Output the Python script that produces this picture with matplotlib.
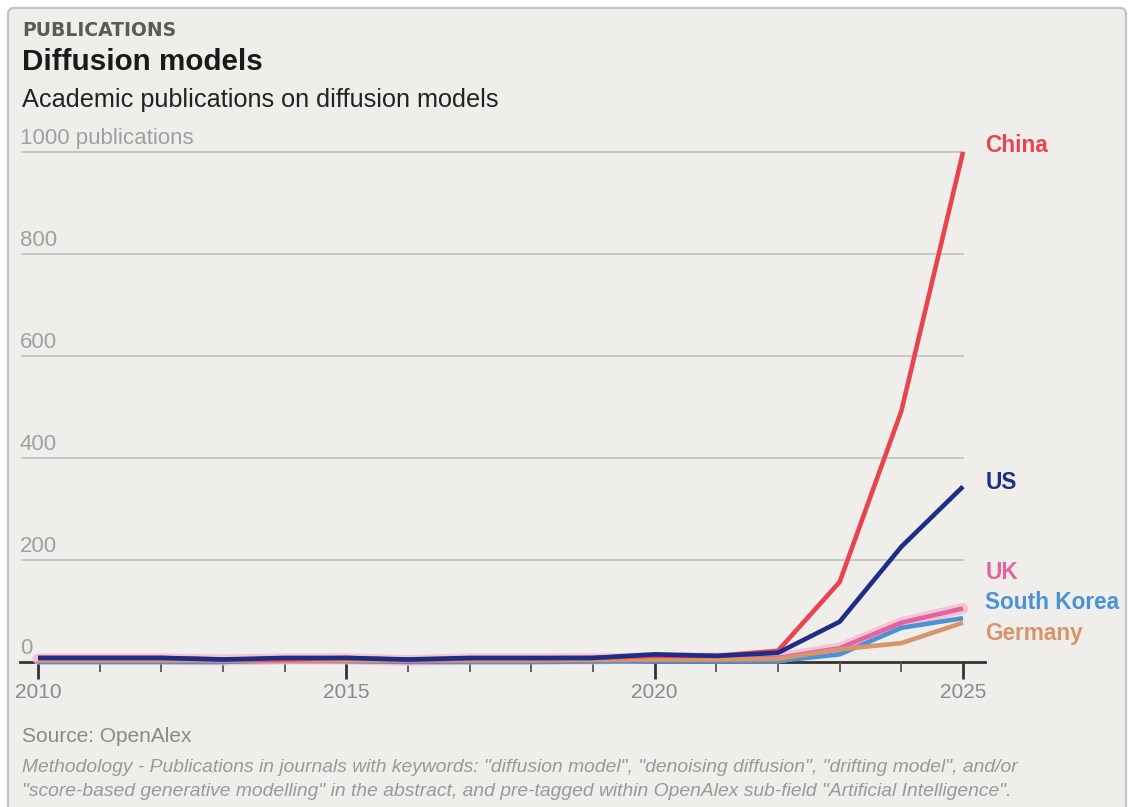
import matplotlib
matplotlib.use("Agg")
import matplotlib.pyplot as plt
from matplotlib.patches import FancyBboxPatch

plt.rcParams['font.family'] = ['Liberation Sans', 'DejaVu Sans']

years = list(range(2010, 2026))
china = [8, 8, 8, 5, 5, 8, 4, 7, 7, 8, 12, 12, 22, 157, 492, 1000]
us = [8, 8, 8, 5, 8, 8, 5, 8, 8, 8, 15, 12, 18, 79, 226, 344]
uk = [6, 6, 6, 4, 6, 6, 3, 6, 6, 6, 8, 8, 8, 27, 77, 105]
south_korea = [0, 0, 0, 0, 4, 2, 0, 0, 0, 1, 2, 2, 2, 15, 67, 86]
germany = [3, 3, 3, 3, 3, 3, 3, 3, 3, 4, 5, 5, 6, 25, 37, 77]

labels = ["China", "US", "UK", "South Korea", "Germany"]
label_y = [1012, 351, 176, 116, 55]
colors = {"China": "#e8434f", "US": "#1e2d86", "UK": "#e064a0",
          "South Korea": "#4a92d4", "Germany": "#d9956a"}
y_ticks = [0, 200, 400, 600, 800, 1000]
y_ticklabels = ["0", "200", "400", "600", "800", "1000 publications"]
x_major = [2010, 2015, 2020, 2025]

W, H = 1129, 807
fig = plt.figure(figsize=(W / 100, H / 100), dpi=100, facecolor="white")

bg = fig.add_axes([0, 0, 1, 1], zorder=-10)
bg.set_axis_off()
bg.set_xlim(0, W)
bg.set_ylim(H, 0)
card = FancyBboxPatch((8, 8), 1126 - 8, H + 40,
                      boxstyle="round,pad=0,rounding_size=6",
                      facecolor="#efeeeb", edgecolor="#c4c4c4", linewidth=1.6)
bg.add_patch(card)

xmin = 2010 - 18 / 61.67
xmax = 2025 + 22 / 61.67
ax = fig.add_axes([20 / W, 0.16704, (985 - 20) / W, 0.81797 - 0.16704])
ax.set_facecolor("none")
ax.set_xlim(xmin, xmax)
ax.set_ylim(-20, 1010)

for s in ["top", "right", "left"]:
    ax.spines[s].set_visible(False)
ax.spines["bottom"].set_position(("data", 0))
ax.spines["bottom"].set_color("#333333")
ax.spines["bottom"].set_linewidth(2)
ax.spines["bottom"].set_zorder(1)

# gridlines (ending at 2025)
for yv in y_ticks[1:]:
    ax.plot([xmin + 2 / 61.67, 2025], [yv, yv], color="#c0c0c0", lw=1.2, zorder=1)

# y labels above gridlines
ax.set_yticks([])
for yv, lab in zip(y_ticks, y_ticklabels):
    ax.text(xmin, yv + 5, lab, fontsize=16, color="#a0a0a0",
            ha="left", va="bottom")

ax.set_xticks(x_major)
ax.set_xticklabels([str(v) for v in x_major])
ax.set_xticks(years, minor=True)
ax.tick_params(axis="x", which="major", length=12, width=2, color="#333333",
               labelsize=15, labelcolor="#8a8a8a", pad=3)
ax.tick_params(axis="x", which="minor", length=7, width=1.3, color="#555555")

# lines
ax.plot(years, uk, color="#f6b9d4", lw=8, alpha=0.8, solid_capstyle="round", zorder=2, clip_on=False)
series = {"South Korea": south_korea, "Germany": germany, "UK": uk, "China": china, "US": us}
for name in ["South Korea", "UK", "Germany", "China", "US"]:
    ax.plot(years, series[name], color=colors[name], lw=3.3,
            solid_joinstyle="round", solid_capstyle="butt", zorder=3, clip_on=False)

for name, yv in zip(labels, label_y):
    ax.text(2025.36, yv, name, color=colors[name], fontsize=16.3, fontweight="bold",
            ha="left", va="center")

# header texts
fig.text(22 / W, 1 - 30 / H, "PUBLICATIONS", fontsize=13.5, fontweight="bold",
         family="DejaVu Sans", color="#5a5a5a", ha="left", va="center")
fig.text(22 / W, 1 - 62 / H, "Diffusion models", fontsize=21.3, fontweight="bold",
         color="#1a1a1a", ha="left", va="center")
fig.text(22 / W, 1 - 100 / H, "Academic publications on diffusion models", fontsize=18.2,
         color="#222222", ha="left", va="center")

# footer texts
fig.text(22 / W, 1 - 736 / H, "Source: OpenAlex", fontsize=15, color="#8a8a8a",
         ha="left", va="center")
fig.text(22 / W, 1 - 767 / H,
         "Methodology - Publications in journals with keywords: \"diffusion model\", \"denoising diffusion\", \"drifting model\", and/or",
         fontsize=13.9, style="italic", color="#999999", ha="left", va="center")
fig.text(22 / W, 1 - 792 / H,
         "\"score-based generative modelling\" in the abstract, and pre-tagged within OpenAlex sub-field \"Artificial Intelligence\".",
         fontsize=13.9, style="italic", color="#999999", ha="left", va="center")

fig.savefig("out.png", dpi=100, facecolor="white")
